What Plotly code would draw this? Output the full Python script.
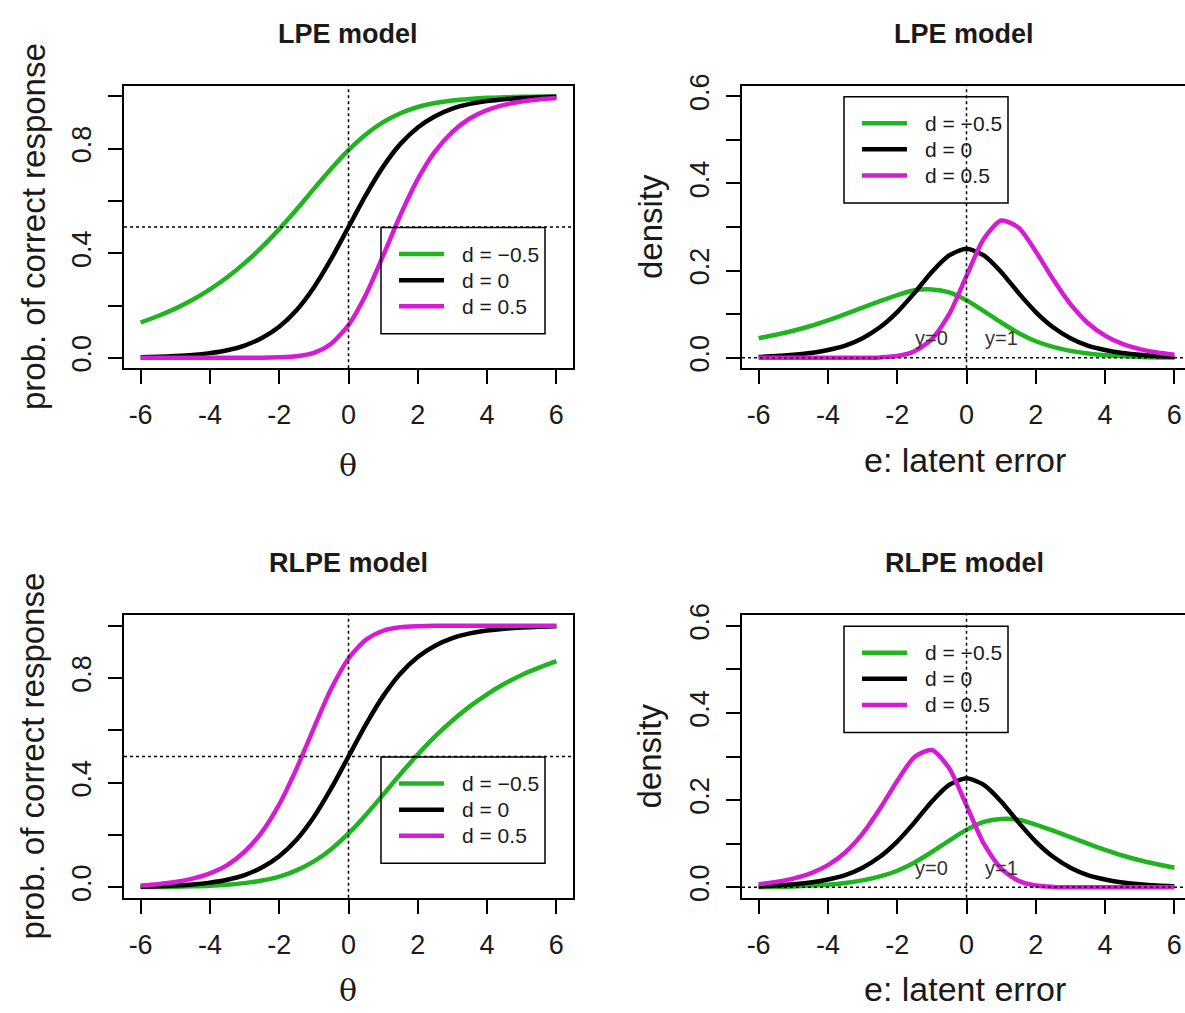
import plotly.graph_objects as go

# ---------------- data ----------------
theta = [-6.0, -5.5, -5.0, -4.5, -4.0, -3.5, -3.0, -2.5, -2.0, -1.5, -1.0, -0.5, 0.0,
         0.5, 1.0, 1.5, 2.0, 2.5, 3.0, 3.5, 4.0, 4.5, 5.0, 5.5, 6.0]

# LPE model: probability of correct response
lpe_green = [0.135, 0.160, 0.188, 0.222, 0.262, 0.308, 0.362, 0.423, 0.492, 0.567, 0.646, 0.723, 0.794,
             0.854, 0.901, 0.935, 0.959, 0.974, 0.984, 0.990, 0.994, 0.996, 0.998, 0.999, 0.999]
lpe_black = [0.002, 0.004, 0.007, 0.011, 0.018, 0.029, 0.047, 0.076, 0.119, 0.182, 0.269, 0.378, 0.500,
             0.622, 0.731, 0.818, 0.881, 0.924, 0.953, 0.971, 0.982, 0.989, 0.993, 0.996, 0.998]
lpe_magenta = [0.000, 0.000, 0.000, 0.000, 0.000, 0.000, 0.000, 0.000, 0.002, 0.006, 0.019, 0.054, 0.125,
               0.241, 0.391, 0.546, 0.683, 0.789, 0.864, 0.915, 0.947, 0.967, 0.980, 0.988, 0.993]

# RLPE model: probability of correct response
rlpe_green = [0.001, 0.001, 0.002, 0.004, 0.006, 0.010, 0.016, 0.026, 0.041, 0.065, 0.099, 0.146, 0.206,
              0.277, 0.354, 0.433, 0.508, 0.577, 0.638, 0.692, 0.738, 0.778, 0.812, 0.840, 0.865]
rlpe_black = [0.002, 0.004, 0.007, 0.011, 0.018, 0.029, 0.047, 0.076, 0.119, 0.182, 0.269, 0.378, 0.500,
              0.622, 0.731, 0.818, 0.881, 0.924, 0.953, 0.971, 0.982, 0.989, 0.993, 0.996, 0.998]
rlpe_magenta = [0.007, 0.012, 0.020, 0.033, 0.053, 0.085, 0.136, 0.211, 0.317, 0.454, 0.609, 0.759, 0.875,
                0.946, 0.981, 0.994, 0.998, 1.000, 1.000, 1.000, 1.000, 1.000, 1.000, 1.000, 1.000]

# LPE model: latent error density
dens_lpe_green = [0.045, 0.053, 0.062, 0.073, 0.086, 0.100, 0.115, 0.130, 0.144, 0.155, 0.157, 0.150, 0.132,
                  0.107, 0.081, 0.057, 0.038, 0.025, 0.016, 0.010, 0.006, 0.004, 0.002, 0.001, 0.001]
dens_lpe_black = [0.002, 0.004, 0.007, 0.011, 0.018, 0.028, 0.045, 0.070, 0.105, 0.149, 0.197, 0.235, 0.250,
                  0.235, 0.197, 0.149, 0.105, 0.070, 0.045, 0.028, 0.018, 0.011, 0.007, 0.004, 0.002]
dens_lpe_magenta = [0.000, 0.000, 0.000, 0.000, 0.000, 0.000, 0.000, 0.001, 0.004, 0.015, 0.043, 0.100, 0.188,
                    0.273, 0.315, 0.299, 0.244, 0.180, 0.123, 0.080, 0.051, 0.032, 0.020, 0.012, 0.007]

# RLPE model: latent error density
dens_rlpe_green = [0.001, 0.001, 0.002, 0.004, 0.006, 0.010, 0.016, 0.025, 0.038, 0.057, 0.081, 0.107, 0.132,
                   0.150, 0.157, 0.155, 0.144, 0.130, 0.115, 0.100, 0.086, 0.073, 0.062, 0.053, 0.045]
dens_rlpe_black = [0.002, 0.004, 0.007, 0.011, 0.018, 0.028, 0.045, 0.070, 0.105, 0.149, 0.197, 0.235, 0.250,
                   0.235, 0.197, 0.149, 0.105, 0.070, 0.045, 0.028, 0.018, 0.011, 0.007, 0.004, 0.002]
dens_rlpe_magenta = [0.007, 0.012, 0.020, 0.032, 0.051, 0.080, 0.123, 0.180, 0.244, 0.299, 0.315, 0.273, 0.188,
                     0.100, 0.043, 0.015, 0.004, 0.001, 0.000, 0.000, 0.000, 0.000, 0.000, 0.000, 0.000]

series_labels = ["d = \u22120.5", "d = 0", "d = 0.5"]
x_tick_vals = [-6, -4, -2, 0, 2, 4, 6]
x_tick_text = ["-6", "-4", "-2", "0", "2", "4", "6"]
prob_tick_vals = [0.0, 0.2, 0.4, 0.6, 0.8, 1.0]
prob_tick_text = ["0.0", "", "0.4", "", "0.8", ""]
dens_tick_vals = [0.0, 0.1, 0.2, 0.3, 0.4, 0.5, 0.6]
dens_tick_text = ["0.0", "", "0.2", "", "0.4", "", "0.6"]

# ---------------- styling ----------------
W, H = 1185, 1013
GREEN = "#1fb51f"
BLACK = "#000000"
MAGENTA = "#d61ad6"
COLORS = [GREEN, BLACK, MAGENTA]
FONT = "Liberation Sans"
TXT = "#1a1a1a"


def px(x):
    return x / W


def py(y):
    return 1 - y / H


PX_PER_UNIT = 449 / 12.96
left_dom = [px(124), px(573)]
right_dom = [px(742), 1.0]
right_xmax = -6.48 + (W - 742) / PX_PER_UNIT
top_dom = [py(362), py(75)]
bot_dom = [py(900), py(613)]

fig = go.Figure()

panels = [
    ("x", "y", [lpe_green, lpe_black, lpe_magenta], "prob", left_dom, top_dom, False),
    ("x2", "y2", [dens_lpe_green, dens_lpe_black, dens_lpe_magenta], "dens", right_dom, top_dom, True),
    ("x3", "y3", [rlpe_green, rlpe_black, rlpe_magenta], "prob", left_dom, bot_dom, False),
    ("x4", "y4", [dens_rlpe_green, dens_rlpe_black, dens_rlpe_magenta], "dens", right_dom, bot_dom, True),
]

shapes = []
annotations = []
layout_axes = {}

for xa, ya, series, kind, xdom, ydom, is_right in panels:
    for vals, col, lab in zip(series, COLORS, series_labels):
        fig.add_trace(go.Scatter(
            x=theta, y=vals, mode="lines", name=lab, showlegend=False,
            line=dict(color=col, width=4.5, shape="spline", smoothing=0.7),
            xaxis=xa, yaxis=ya, hoverinfo="x+y+name"))

    xname = "xaxis" + xa[1:]
    yname = "yaxis" + ya[1:]
    common = dict(showline=True, linecolor="black", linewidth=1.5, ticks="outside",
                  ticklen=14, tickwidth=1.5, tickcolor="black", showgrid=False,
                  zeroline=False, tickfont=dict(family=FONT, size=27, color=TXT))
    layout_axes[xname] = dict(
        common, domain=xdom, anchor=ya, mirror=True,
        range=[-6.48, right_xmax if is_right else 6.48],
        tickmode="array", tickvals=x_tick_vals, ticktext=x_tick_text,
        ticklabelstandoff=8)
    if kind == "prob":
        yr, tv, tt = [-0.04, 1.04], prob_tick_vals, prob_tick_text
    else:
        yr, tv, tt = [-0.024, 0.624], dens_tick_vals, dens_tick_text
    layout_axes[yname] = dict(
        common, domain=ydom, anchor=xa, mirror=not is_right, range=yr,
        tickmode="array", tickvals=tv, ticktext=tt, tickangle=-90,
        ticklabelstandoff=6)

    dot = dict(color="black", width=1.5, dash="dot")
    shapes.append(dict(type="line", xref=xa, yref=ya + " domain", x0=0, x1=0, y0=0, y1=1, line=dot))
    if kind == "prob":
        shapes.append(dict(type="line", xref=xa + " domain", yref=ya, x0=0, x1=1, y0=0.5, y1=0.5, line=dot))
    else:
        shapes.append(dict(type="line", xref=xa + " domain", yref=ya, x0=0, x1=1, y0=0, y1=0, line=dot))
        for tx, tl in [(-1.0, "y=0"), (1.0, "y=1")]:
            annotations.append(dict(x=tx, y=0.045, xref=xa, yref=ya, text=tl, showarrow=False,
                                    font=dict(family=FONT, size=20, color="#333333"),
                                    xanchor="center", yanchor="middle"))


def label(xp, yp, text, size, family=FONT, angle=0, anchor="center"):
    annotations.append(dict(x=px(xp), y=py(yp), xref="paper", yref="paper", text=text,
                            textangle=angle, showarrow=False, xanchor=anchor, yanchor="middle",
                            borderpad=0,
                            font=dict(family=family, size=size, color=TXT)))


for off, name, theta_y in [(0, "LPE model", 461), (538, "RLPE model", 994)]:
    label(348, 22 + off, "<b>" + name + "</b>", 27)
    label(964, 22 + off, "<b>" + name + "</b>", 27)
    label(33, 218.5 + off, "prob. of correct response", 33, angle=-90)
    label(650, 218.5 + off, "density", 33, angle=-90)
    label(348, theta_y, "\u03b8", 30, family="DejaVu Serif")
    label(965, 455 + off, "e: latent error", 34)

legend_boxes = [(381, 219), (844, 86), (381, 757), (844, 624)]
for bx, by in legend_boxes:
    shapes.append(dict(type="rect", xref="paper", yref="paper",
                       x0=px(bx), x1=px(bx + 164), y0=py(by), y1=py(by + 108),
                       line=dict(color="black", width=1.5)))
    for i, (col, lab) in enumerate(zip(COLORS, series_labels)):
        yy = by + 27 + 26.5 * i
        shapes.append(dict(type="line", xref="paper", yref="paper",
                           x0=px(bx + 18), x1=px(bx + 63), y0=py(yy), y1=py(yy),
                           line=dict(color=col, width=4.5)))
        label(bx + 80, yy, lab, 21, anchor="left")

fig.update_layout(
    width=W, height=H,
    margin=dict(l=0, r=0, t=0, b=0),
    paper_bgcolor="white", plot_bgcolor="white",
    shapes=shapes, annotations=annotations,
    showlegend=False,
    **layout_axes,
)

fig.write_html("out.html", config={"displayModeBar": False},
               post_script="document.body.style.margin='0';document.body.style.overflow='hidden';")
